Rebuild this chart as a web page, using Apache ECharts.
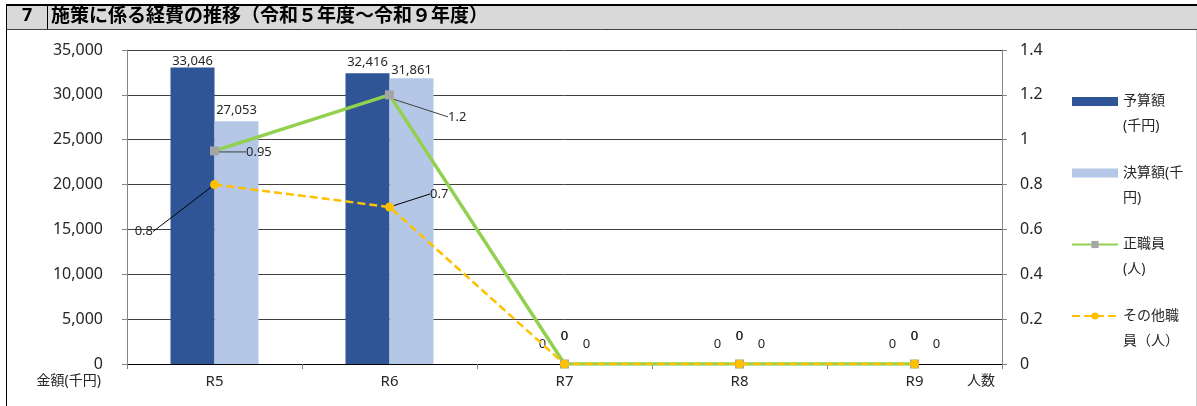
<!DOCTYPE html>
<html>
<head>
<meta charset="utf-8">
<script src="https://cdn.jsdelivr.net/npm/echarts@6/dist/echarts.min.js"></script>
<style>
  html, body { margin: 0; padding: 0; background: #fff; }
  #chart { width: 1197px; height: 406px; }
</style>
</head>
<body>
<div id="chart"></div>
<script>
// 年度
const categories = ['R5', 'R6', 'R7', 'R8', 'R9'];
// 予算額・決算額（千円）
const budget = [33046, 32416, 0, 0, 0];
const settled = [27053, 31861, 0, 0, 0];
// 職員数（人）
const regularStaff = [0.95, 1.2, 0, 0, 0];
const otherStaff = [0.8, 0.7, 0, 0, 0];
// 軸目盛
const leftTicks = { min: 0, max: 35000, interval: 5000 };
const rightTicks = { min: 0, max: 1.4, interval: 0.2 };

const FONT = '"Noto Sans", "Noto Sans CJK JP", sans-serif';
const TEXT = '#262626';

// 棒ラベルと棒上端との間隔
const budgetLabelGap = [0, 4, 13, 13, 13];
const settledLabelGap = [4, 1, 13, 13, 13];

// 折れ線ラベルの配置（引出線つき）
const lineLabelPlace = {
  '正職員\n(人)': [
    { position: 'right', dx: 22, dy: 1, guide: true },
    { position: 'right', dx: 49, dy: 22, guide: true },
    { position: 'top', distance: 17 },
    { position: 'top', distance: 17 },
    { position: 'top', distance: 17 }
  ],
  'その他職\n員（人）': [
    { position: 'left', dx: -52, dy: 47, guide: true },
    { position: 'right', dx: 31, dy: -13, guide: true },
    { position: 'top', distance: 17 },
    { position: 'top', distance: 17 },
    { position: 'top', distance: 17 }
  ]
};

const fmt = v => Number(v).toLocaleString('en-US');

function barData(values, gaps) {
  return values.map((v, i) => ({ value: v, label: { distance: gaps[i] } }));
}

function lineData(name, values) {
  return values.map((v, i) => {
    const p = lineLabelPlace[name][i];
    const item = { value: v, label: { position: p.position } };
    if (p.distance !== undefined) item.label.distance = p.distance;
    if (p.guide) item.labelLine = { show: true };
    return item;
  });
}

function lineLayout(name) {
  return function (params) {
    const p = lineLabelPlace[name][params.dataIndex];
    if (p && p.guide) return { dx: p.dx, dy: p.dy };
    return {};
  };
}

const chart = echarts.init(document.getElementById('chart'), null, { renderer: 'canvas' });

const option = {
  animation: false,
  textStyle: { fontFamily: FONT },
  grid: { left: 127, right: 195, top: 50, bottom: 42 },
  legend: {
    orient: 'vertical',
    left: 1071,
    top: 64,
    padding: 0,
    itemWidth: 46,
    itemHeight: 9,
    itemGap: -3.5,
    // 先頭の空行で、1行目の文字をアイコンの高さにそろえる
    formatter: name => '\n' + name,
    textStyle: { fontFamily: FONT, fontSize: 14, color: TEXT, lineHeight: 25 },
    data: [
      { name: '予算額\n(千円)', icon: 'rect' },
      { name: '決算額(千\n円)', icon: 'rect' },
      { name: '正職員\n(人)' },
      { name: 'その他職\n員（人）' }
    ]
  },
  xAxis: {
    type: 'category',
    data: categories,
    axisLine: { lineStyle: { color: '#000', width: 1 } },
    axisTick: { show: true, length: 5, lineStyle: { color: '#7f7f7f' } },
    axisLabel: { fontFamily: FONT, fontSize: 15, color: TEXT, margin: 10 }
  },
  yAxis: [
    {
      type: 'value',
      min: leftTicks.min, max: leftTicks.max, interval: leftTicks.interval,
      axisLine: { show: true, lineStyle: { color: '#868686' } },
      axisTick: { show: true, length: 5, lineStyle: { color: '#868686' } },
      splitLine: { lineStyle: { color: '#404040', width: 1 } },
      axisLabel: { fontFamily: FONT, fontSize: 16, color: TEXT, margin: 24, formatter: v => fmt(v) }
    },
    {
      type: 'value',
      position: 'right',
      min: rightTicks.min, max: rightTicks.max, interval: rightTicks.interval,
      axisLine: { show: true, lineStyle: { color: '#868686' } },
      axisTick: { show: true, length: 5, lineStyle: { color: '#868686' } },
      splitLine: { show: false },
      axisLabel: { fontFamily: FONT, fontSize: 16, color: TEXT, margin: 18,
        formatter: v => String(Math.round(v * 10) / 10) }
    }
  ],
  series: [
    {
      name: '予算額\n(千円)',
      type: 'bar',
      barWidth: 44,
      barGap: '0%',
      itemStyle: { color: '#2F5597' },
      label: { show: true, position: 'top', fontFamily: FONT, fontSize: 13, color: TEXT, formatter: p => fmt(p.value) },
      data: barData(budget, budgetLabelGap)
    },
    {
      name: '決算額(千\n円)',
      type: 'bar',
      barWidth: 44,
      barGap: '0%',
      itemStyle: { color: '#B4C7E7' },
      label: { show: true, position: 'top', fontFamily: FONT, fontSize: 13, color: TEXT, formatter: p => fmt(p.value) },
      data: barData(settled, settledLabelGap)
    },
    {
      name: '正職員\n(人)',
      type: 'line',
      yAxisIndex: 1,
      symbol: 'rect',
      symbolSize: 9,
      lineStyle: { color: '#92D050', width: 3.5 },
      itemStyle: { color: '#A5A5A5' },
      label: { show: true, fontFamily: FONT, fontSize: 13, color: TEXT, distance: 5 },
      labelLine: { lineStyle: { color: '#404040', width: 1 } },
      labelLayout: lineLayout('正職員\n(人)'),
      data: lineData('正職員\n(人)', regularStaff)
    },
    {
      name: 'その他職\n員（人）',
      type: 'line',
      yAxisIndex: 1,
      symbol: 'circle',
      symbolSize: 9,
      lineStyle: { color: '#FFC000', width: 2.5, type: [8, 4] },
      itemStyle: { color: '#FFC000' },
      label: { show: true, fontFamily: FONT, fontSize: 13, color: TEXT, distance: 5 },
      labelLine: { lineStyle: { color: '#000', width: 1 } },
      labelLayout: lineLayout('その他職\n員（人）'),
      data: lineData('その他職\n員（人）', otherStaff)
    }
  ],
  graphic: [
    // 見出し帯
    { type: 'rect', left: 6, top: 5, shape: { width: 1191, height: 24 }, style: { fill: '#D9D9D9' }, silent: true },
    { type: 'line', shape: { x1: 6, y1: 5, x2: 1197, y2: 5 }, style: { stroke: '#000', lineWidth: 2 }, silent: true },
    { type: 'line', shape: { x1: 6, y1: 29.5, x2: 1197, y2: 29.5 }, style: { stroke: '#404040', lineWidth: 1 }, silent: true },
    { type: 'line', shape: { x1: 6.5, y1: 4, x2: 6.5, y2: 406 }, style: { stroke: '#000', lineWidth: 1 }, silent: true },
    { type: 'line', shape: { x1: 47.5, y1: 5, x2: 47.5, y2: 29 }, style: { stroke: '#000', lineWidth: 1 }, silent: true },
    { type: 'line', shape: { x1: 1196.5, y1: 30, x2: 1196.5, y2: 406 }, style: { stroke: '#d0d0d0', lineWidth: 1 }, silent: true },
    { type: 'text', left: 22, top: 7, style: { text: '7', font: 'bold 18px ' + FONT, fill: '#000' }, silent: true },
    { type: 'text', left: 51, top: 7, style: { text: '施策に係る経費の推移（令和５年度～令和９年度）', font: 'bold 19px ' + FONT, fill: '#000' }, silent: true },
    // 軸の単位
    { type: 'text', right: 1096, top: 374, style: { text: '金額(千円)', font: '14px ' + FONT, fill: TEXT }, silent: true },
    { type: 'text', left: 967, top: 374, style: { text: '人数', font: '14px ' + FONT, fill: TEXT }, silent: true }
  ]
};

chart.setOption(option);
</script>
</body>
</html>
